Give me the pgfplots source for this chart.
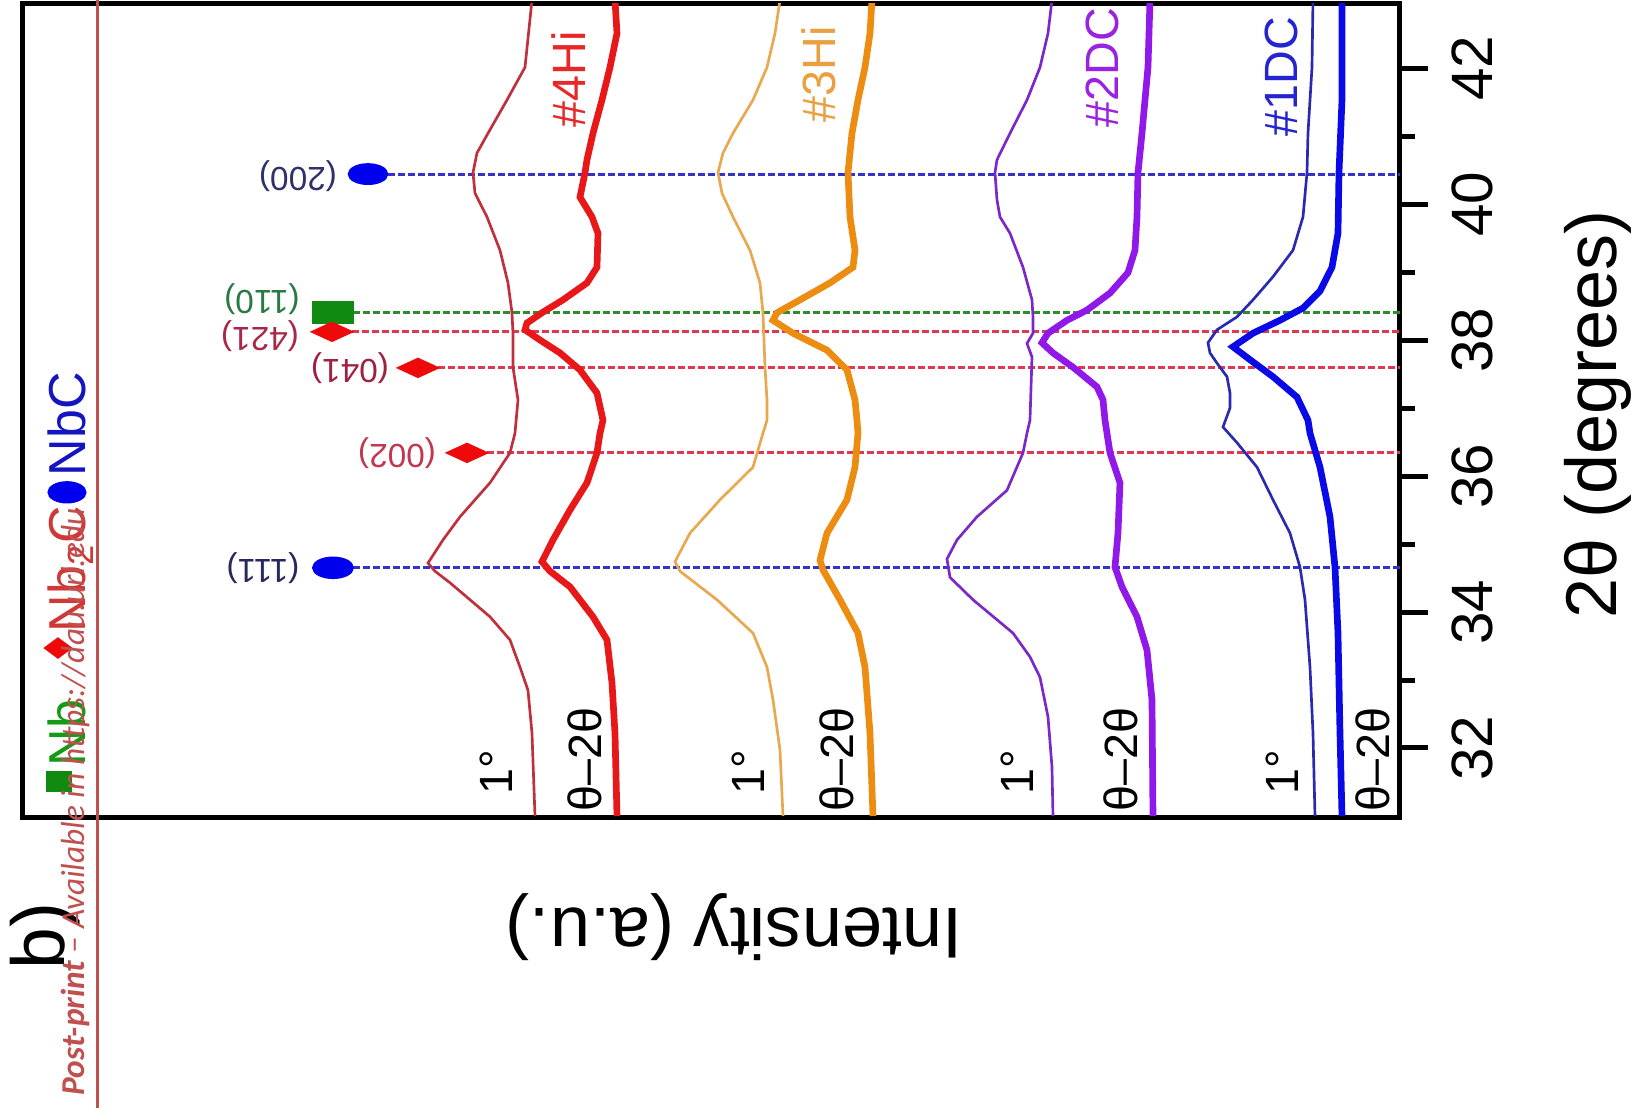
\documentclass[border=0pt]{standalone}
\usepackage{pgfplots}
\pgfplotsset{compat=1.18}
\usepackage{fontspec}
\setmainfont{Liberation Sans}
\newfontfamily\carlito{Carlito}
\definecolor{redThin}{HTML}{C0303C}
\definecolor{redThick}{HTML}{E81818}
\definecolor{orThin}{HTML}{E8A850}
\definecolor{orThick}{HTML}{EC8C10}
\definecolor{puThin}{HTML}{7A28C8}
\definecolor{puThick}{HTML}{9018E8}
\definecolor{buThin}{HTML}{2A2AB0}
\definecolor{buThick}{HTML}{0A0AE6}
\definecolor{lineBlue}{HTML}{3333CC}
\definecolor{lineGreen}{HTML}{2E8B2E}
\definecolor{lineRed}{HTML}{E03850}
\definecolor{mkBlue}{HTML}{0000EE}
\definecolor{mkGreen}{HTML}{108A10}
\definecolor{mkRed}{HTML}{EE0A0A}
\definecolor{wm}{HTML}{C0504D}
\begin{document}
\begin{tikzpicture}
\useasboundingbox (0pt,0pt) rectangle (489.9pt,-332.4pt);
\fill[white] (0pt,0pt) rectangle (489.9pt,-332.4pt);
\begin{axis}[
  at={(6.9pt,-245.1pt)}, anchor=south west,
  scale only axis, width=413.1pt, height=244.2pt,
  x dir=reverse, xmin=0, xmax=1377, ymin=30.985, ymax=42.956,
  xtick=\empty,
  ytick={32,34,...,42}, minor ytick={33,35,...,41},
  ytick pos=right, yticklabel pos=right,
  tick align=outside,
  major tick length=8.4pt, minor tick length=4.5pt,
  every tick/.style={black, line width=1.5pt},
  axis line style={line width=1.5pt},
  /pgf/number format/assume math mode=true,
  yticklabel style={rotate=90, anchor=north, inner sep=0pt, font=\fontsize{17.5}{17.5}\selectfont},
  yticklabel shift=7pt,
]
% reference lines with peak markers
\addplot[lineBlue, line width=0.95pt, dash pattern=on 2pt off 1pt, mark=*, mark indices={1}, mark size=2.8pt, mark options={solid, fill=mkBlue, draw=mkBlue, xscale=2.0}] coordinates {(1032,40.44) (0,40.44)};
\addplot[lineGreen, line width=0.95pt, dash pattern=on 2pt off 1pt, mark=square*, mark indices={1}, mark size=3pt, mark options={solid, fill=mkGreen, draw=mkGreen, xscale=1.95}] coordinates {(1067,38.40) (0,38.40)};
\addplot[lineRed, line width=0.95pt, dash pattern=on 2pt off 1pt, mark=diamond*, mark indices={1}, mark size=2.55pt, mark options={solid, fill=mkRed, draw=mkRed, xscale=2.9}] coordinates {(1068,38.12) (0,38.12)};
\addplot[lineRed, line width=0.95pt, dash pattern=on 2pt off 1pt, mark=diamond*, mark indices={1}, mark size=2.55pt, mark options={solid, fill=mkRed, draw=mkRed, xscale=2.9}] coordinates {(982,37.59) (0,37.59)};
\addplot[lineRed, line width=0.95pt, dash pattern=on 2pt off 1pt, mark=diamond*, mark indices={1}, mark size=2.55pt, mark options={solid, fill=mkRed, draw=mkRed, xscale=2.9}] coordinates {(933,36.34) (0,36.34)};
\addplot[lineBlue, line width=0.95pt, dash pattern=on 2pt off 1pt, mark=*, mark indices={1}, mark size=2.9pt, mark options={solid, fill=mkBlue, draw=mkBlue, xscale=2.0}] coordinates {(1067,34.65) (0,34.65)};
% legend markers
\addplot[only marks, mark=square*, mark size=3pt, mark options={fill=mkGreen, draw=mkGreen, xscale=1.25}] coordinates {(1341,31.51)};
\addplot[only marks, mark=diamond*, mark size=3pt, mark options={fill=mkRed, draw=mkRed, xscale=1.8}] coordinates {(1342,33.47)};
\addplot[only marks, mark=*, mark size=3.15pt, mark options={fill=mkBlue, draw=mkBlue, xscale=1.8}] coordinates {(1333,35.76)};
% #4Hi
\addplot[redThin, line width=0.8pt] coordinates {(868,43.0) (875,42.01) (893,41.53) (912,41.04) (923,40.75) (927,40.46) (925,40.16) (913,39.81) (900,39.32) (892,38.84) (888,38.40) (887,38.10) (887,37.60) (882,37.12) (885,36.63) (890,36.34) (910,35.90) (940,35.40) (957,35.06) (972,34.72) (965,34.60) (950,34.43) (910,33.93) (890,33.59) (880,33.19) (872,32.85) (868,32.22) (865,31.0)};
\addplot[redThick, line width=2pt] coordinates {(785,43.0) (783,42.51) (790,42.01) (798,41.53) (807,41.04) (813,40.65) (815,40.46) (820,40.10) (808,39.81) (802,39.57) (803,39.07) (813,38.84) (837,38.59) (857,38.41) (873,38.25) (875,38.15) (860,38.0) (840,37.81) (820,37.56) (803,37.22) (797,36.82) (800,36.63) (803,36.34) (813,35.90) (830,35.50) (847,35.06) (858,34.74) (850,34.60) (830,34.37) (807,33.93) (793,33.59) (788,32.96) (785,32.22) (783,31.0)};
% #3Hi
\addplot[orThin, line width=0.8pt] coordinates {(620,43.0) (625,42.51) (633,42.01) (647,41.53) (667,41.04) (677,40.75) (682,40.46) (678,40.16) (667,39.81) (650,39.32) (640,38.84) (637,38.40) (635,37.60) (633,37.12) (633,36.82) (637,36.63) (647,36.13) (680,35.65) (710,35.16) (725,34.74) (720,34.60) (683,34.18) (647,33.69) (633,33.19) (627,32.71) (620,31.97) (617,31.0)};
\addplot[orThick, line width=2pt] coordinates {(528,43.0) (530,42.51) (535,42.01) (542,41.53) (548,41.04) (552,40.46) (550,39.81) (545,39.32) (547,39.07) (570,38.84) (600,38.59) (623,38.40) (627,38.29) (607,38.10) (573,37.85) (553,37.56) (545,37.12) (543,36.82) (542,36.63) (545,36.13) (553,35.65) (573,35.16) (580,34.76) (577,34.62) (560,34.18) (542,33.69) (535,33.19) (530,32.22) (527,31.0)};
% #2DC
\addplot[puThin, line width=0.8pt] coordinates {(348,43.0) (352,42.51) (360,42.01) (373,41.53) (390,41.04) (403,40.65) (405,40.46) (403,40.06) (400,39.81) (390,39.57) (377,39.07) (368,38.59) (367,38.34) (367,38.10) (373,37.95) (368,37.75) (370,36.82) (373,36.63) (377,36.34) (393,35.79) (423,35.40) (443,35.06) (453,34.78) (450,34.51) (427,34.18) (387,33.69) (370,33.34) (360,33.04) (352,32.46) (348,31.72) (347,31.0)};
\addplot[puThick, line width=2pt] coordinates {(250,43.0) (252,42.01) (255,41.53) (258,41.04) (262,40.46) (263,39.81) (265,39.32) (272,38.99) (290,38.69) (313,38.44) (333,38.29) (352,38.10) (358,37.96) (347,37.81) (327,37.60) (303,37.31) (297,37.12) (295,36.82) (290,36.34) (280,35.90) (282,35.16) (285,34.66) (278,34.37) (263,33.93) (253,33.44) (248,32.71) (247,31.0)};
% #1DC
\addplot[buThin, line width=0.8pt] coordinates {(87,43.0) (88,42.01) (92,41.04) (93,40.46) (97,39.81) (107,39.32) (127,38.93) (147,38.59) (163,38.34) (183,38.15) (192,37.96) (190,37.81) (183,37.66) (173,37.46) (170,37.22) (170,37.0) (177,36.72) (163,36.49) (143,36.13) (127,35.65) (110,35.16) (100,34.66) (95,34.18) (90,33.19) (87,32.22) (85,31.0)};
\addplot[buThick, line width=2pt] coordinates {(58,43.0) (58,41.53) (61,40.46) (62,39.57) (68,39.07) (80,38.72) (97,38.47) (120,38.29) (147,38.10) (167,37.90) (150,37.71) (127,37.46) (103,37.16) (92,36.82) (90,36.63) (80,36.13) (70,35.40) (65,34.66) (62,33.69) (60,32.22) (58,31.0)};
\end{axis}
\begin{scope}[x=0.3pt, y=-0.3pt]
% axis titles
\node[rotate=90, font=\fontsize{21.6}{21.6}\selectfont] at (1598,414) {2θ (degrees)};
\node[rotate=180, font=\fontsize{21.6}{21.6}\selectfont] at (734,927) {Intensity (a.u.)};
\node[rotate=90, anchor=base west, inner sep=0pt, font=\fontsize{22.5}{22.5}\selectfont] at (64,970) {b)};
% sample labels
\node[rotate=90, anchor=base west, inner sep=0pt, text={rgb,255:red,232;green,40;blue,40}, font=\fontsize{14}{14}\selectfont] at (585,128) {\#4Hi};
\node[rotate=90, anchor=base west, inner sep=0pt, text={rgb,255:red,232;green,160;blue,64}, font=\fontsize{14}{14}\selectfont] at (835,123) {\#3Hi};
\node[rotate=90, anchor=base west, inner sep=0pt, text={rgb,255:red,154;green,34;blue,224}, font=\fontsize{14}{14}\selectfont] at (1118,128) {\#2DC};
\node[rotate=90, anchor=base west, inner sep=0pt, text={rgb,255:red,36;green,36;blue,208}, font=\fontsize{14}{14}\selectfont] at (1297,137) {\#1DC};
% scan labels
\foreach \bx in {512,764,1033,1298}{
  \node[rotate=90, anchor=base west, inner sep=0pt, font=\fontsize{14}{14}\selectfont] at (\bx,795) {1°};
}
\foreach \bx in {601,853,1137,1389}{
  \node[rotate=90, anchor=base west, inner sep=0pt, font=\fontsize{14}{14}\selectfont] at (\bx,812) {θ–2θ};
}
% peak labels
\node[rotate=180, text={rgb,255:red,48;green,48;blue,106}, font=\fontsize{10}{10}\selectfont] at (298,176) {(200)};
\node[rotate=180, text={rgb,255:red,42;green,122;blue,68}, font=\fontsize{10}{10}\selectfont] at (262,299) {(110)};
\node[rotate=180, text={rgb,255:red,168;green,40;blue,72}, font=\fontsize{10}{10}\selectfont] at (260,336) {(421)};
\node[rotate=180, text={rgb,255:red,160;green,32;blue,64}, font=\fontsize{10}{10}\selectfont] at (350,368) {(041)};
\node[rotate=180, text={rgb,255:red,192;green,56;blue,80}, font=\fontsize{10}{10}\selectfont] at (397,453) {(002)};
\node[rotate=180, text={rgb,255:red,40;green,40;blue,96}, font=\fontsize{10}{10}\selectfont] at (263,568) {(111)};
% legend texts
\node[rotate=90, anchor=base west, inner sep=0pt, text={rgb,255:red,22;green,154;blue,22}, font=\fontsize{15.6}{15.6}\selectfont] at (85,767) {Nb};
\node[rotate=90, anchor=base west, inner sep=0pt, text={rgb,255:red,208;green,56;blue,56}, font=\fontsize{15.6}{15.6}\selectfont] at (85,633) {Nb\textsubscript{2}C};
\node[rotate=90, anchor=base west, inner sep=0pt, text={rgb,255:red,20;green,20;blue,192}, font=\fontsize{15.6}{15.6}\selectfont] at (85,477) {NbC};
% watermark
\node[rotate=90, anchor=base west, inner sep=0pt, text=wm, font=\carlito\fontsize{10}{10}\selectfont] at (84,1096) {{\itshape\bfseries Post-print} {\itshape – Available in https://dau.url.edu}};
\draw[wm, line width=0.9pt] (97,0) -- (97,1108);
\end{scope}
\end{tikzpicture}
\end{document}
